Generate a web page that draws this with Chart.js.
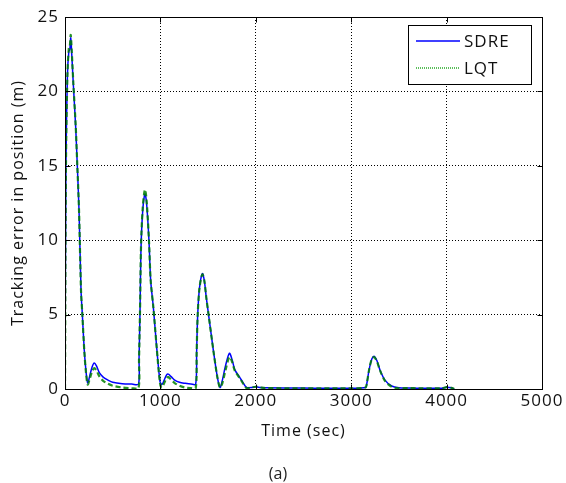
<!DOCTYPE html>
<html>
<head>
<meta charset="utf-8">
<script src="https://cdn.jsdelivr.net/npm/chart.js@4"></script>
<style>
  html, body { margin: 0; padding: 0; background: #fff; }
  #wrap { width: 566px; height: 483px; }
</style>
</head>
<body>
<div id="wrap"><canvas id="errChart" width="566" height="483"></canvas></div>
<script>
// time samples (sec)
const timeSec = [0, 10, 25, 40, 50, 60, 70, 87, 112, 129, 147, 168, 181, 202, 220, 238, 260, 285, 307, 330,
  360, 400, 450, 500, 600, 700, 770, 776, 786, 797, 815, 838, 855, 880, 898, 926, 961, 996, 1015, 1040,
  1065, 1083, 1110, 1150, 1200, 1260, 1320, 1370, 1380, 1391, 1410, 1440, 1460, 1480, 1509, 1555, 1597, 1625, 1650, 1680,
  1723, 1750, 1782, 1830, 1869, 1904, 1950, 2000, 2050, 2100, 2500, 3000, 3150, 3162, 3187, 3215, 3239, 3270, 3302, 3354,
  3424, 3500, 3600, 3700, 3950, 4000, 4050, 4080];

// tracking error in position (m)
const sdreError = [0, 15, 21, 22.7, 22.8, 23.6, 22.6, 20.5, 17.6, 15, 12, 6.6, 5.1, 2.6, 1.2, 0.4, 0.9, 1.5, 1.75, 1.55,
  1.1, 0.8, 0.6, 0.45, 0.35, 0.33, 0.33, 2.0, 5.1, 9.5, 12, 13.1, 12.5, 10, 7.3, 5.5, 2.8, 0.5, 0.3, 0.6,
  0.95, 1.0, 0.85, 0.6, 0.45, 0.38, 0.33, 0.33, 2.5, 5.0, 6.8, 7.76, 7.3, 6.2, 4.8, 2.6, 0.8, 0.1, 0.6, 1.5,
  2.4, 2.0, 1.27, 0.8, 0.4, 0.1, 0.1, 0.15, 0.1, 0.08, 0.06, 0.05, 0.1, 0.3, 1.27, 2.0, 2.2, 1.9, 1.27, 0.6,
  0.2, 0.08, 0.06, 0.05, 0.05, 0.12, 0.08, 0];

const lqtError = [0, 15, 21, 22.9, 23.0, 23.8, 22.8, 20.6, 17.7, 15, 12, 6.6, 5.1, 2.6, 1.1, 0.3, 0.7, 1.2, 1.4, 1.25,
  0.85, 0.55, 0.35, 0.22, 0.1, 0.05, 0.05, 2.0, 5.1, 9.6, 12.2, 13.4, 12.7, 10, 7.3, 5.5, 2.8, 0.4, 0.1, 0.4,
  0.75, 0.8, 0.65, 0.4, 0.22, 0.1, 0.06, 0.05, 2.5, 5.0, 6.8, 7.7, 7.3, 6.2, 4.8, 2.6, 0.8, 0.1, 0.4, 1.2,
  2.15, 1.85, 1.2, 0.75, 0.35, 0.05, 0.1, 0.15, 0.1, 0.06, 0.05, 0.05, 0.1, 0.3, 1.27, 2.0, 2.15, 1.85, 1.25, 0.55,
  0.15, 0.05, 0.06, 0.05, 0.05, 0.12, 0.08, 0];

const xTicks = [0, 1000, 2000, 3000, 4000, 5000];
const yTicks = [0, 5, 10, 15, 20, 25];
const seriesNames = ['SDRE', 'LQT'];

const FONT = '"Open Sans", "DejaVu Sans", sans-serif';

// box around the plot, inward ticks, legend + caption, the way matlab draws it
const matlabBits = {
  id: 'matlabBits',
  beforeDraw(chart) {
    chart.ctx.letterSpacing = '1px'; // matlab export spreads letters a bit
  },
  afterDatasetsDraw(chart) {
    const { ctx, chartArea: a, scales } = chart;
    ctx.save();
    ctx.strokeStyle = '#000';
    ctx.lineWidth = 1;
    const L = Math.round(a.left) + 0.5, T = Math.round(a.top) + 0.5;
    const R = Math.round(a.right) + 0.5, B = Math.round(a.bottom) + 0.5;
    ctx.strokeRect(L, T, R - L, B - T);

    // small inward ticks on all four sides
    ctx.beginPath();
    xTicks.forEach(v => {
      const px = Math.round(scales.x.getPixelForValue(v)) + 0.5;
      ctx.moveTo(px, B); ctx.lineTo(px, B - 5);
      ctx.moveTo(px, T); ctx.lineTo(px, T + 5);
    });
    yTicks.forEach(v => {
      const py = Math.round(scales.y.getPixelForValue(v)) + 0.5;
      ctx.moveTo(L, py); ctx.lineTo(L + 5, py);
      ctx.moveTo(R, py); ctx.lineTo(R - 5, py);
    });
    ctx.stroke();

    // legend
    const bx = 408, by = 25, bw = 123, bh = 59;
    ctx.fillStyle = '#fff';
    ctx.fillRect(bx, by, bw, bh);
    ctx.strokeRect(bx + 0.5, by + 0.5, bw, bh);
    chart.data.datasets.forEach((ds, i) => {
      const ly = by + 16 + i * 27;
      ctx.beginPath();
      ctx.strokeStyle = i === 0 ? '#0000ff' : '#5cbf5c';
      ctx.lineWidth = i === 0 ? 1.5 : 2;
      ctx.setLineDash(i === 0 ? [] : [1, 1]);
      ctx.moveTo(bx + 8, ly);
      ctx.lineTo(bx + 52, ly);
      ctx.stroke();
      ctx.setLineDash([]);
      ctx.fillStyle = '#111';
      ctx.font = '17px ' + FONT;
      ctx.textBaseline = 'middle';
      ctx.textAlign = 'left';
      ctx.fillText(ds.label, bx + 56, ly + 1);
    });

    // caption
    ctx.fillStyle = '#222';
    ctx.font = '16px ' + FONT;
    ctx.textAlign = 'center';
    ctx.letterSpacing = '0px';
    ctx.fillText('(a)', 278, 474);
    ctx.restore();
  }
};

const ctx = document.getElementById('errChart').getContext('2d');
new Chart(ctx, {
  type: 'line',
  data: {
    datasets: [{
      label: seriesNames[0],
      data: timeSec.map((t, i) => ({ x: t, y: sdreError[i] })),
      borderColor: '#0000ff',
      borderWidth: 1.5,
      pointRadius: 0,
      tension: 0.3,
      order: 1,
    }, {
      label: seriesNames[1],
      data: timeSec.map((t, i) => ({ x: t, y: lqtError[i] })),
      borderColor: 'rgba(0, 128, 0, 0.85)',
      borderWidth: 2.2,
      borderDash: [5, 3],
      pointRadius: 0,
      tension: 0.3,
      order: 0,
    }],
  },
  options: {
    responsive: false,
    animation: false,
    layout: { padding: { top: 17, right: 24, bottom: 42, left: 0 } },
    plugins: {
      legend: { display: false },
      tooltip: { enabled: false },
    },
    scales: {
      x: {
        type: 'linear',
        min: 0,
        max: 5000,
        afterBuildTicks: (s) => { s.ticks = xTicks.map(v => ({ value: v })); },
        afterFit: (s) => { s.height = 52; },
        grid: { color: '#000', lineWidth: 1, drawTicks: false },
        border: { display: false, dash: [1, 2] },
        ticks: { color: '#111', font: { family: FONT, size: 17 }, padding: 2, maxRotation: 0, callback: (v) => String(v) },
        title: { display: true, text: 'Time (sec)', color: '#111', font: { family: FONT, size: 16 }, padding: { top: 0, bottom: 0 } },
      },
      y: {
        min: 0,
        max: 25,
        afterBuildTicks: (s) => { s.ticks = yTicks.map(v => ({ value: v })); },
        afterFit: (s) => { s.width = 65; },
        grid: { color: '#000', lineWidth: 1, drawTicks: false },
        border: { display: false, dash: [1, 2] },
        ticks: { color: '#111', font: { family: FONT, size: 17 }, padding: 6, callback: (v) => String(v) },
        title: { display: true, text: 'Tracking error in position (m)', color: '#111', font: { family: FONT, size: 16 }, padding: { top: 9, bottom: 0 } },
      },
    },
  },
  plugins: [matlabBits],
});
</script>
</body>
</html>
